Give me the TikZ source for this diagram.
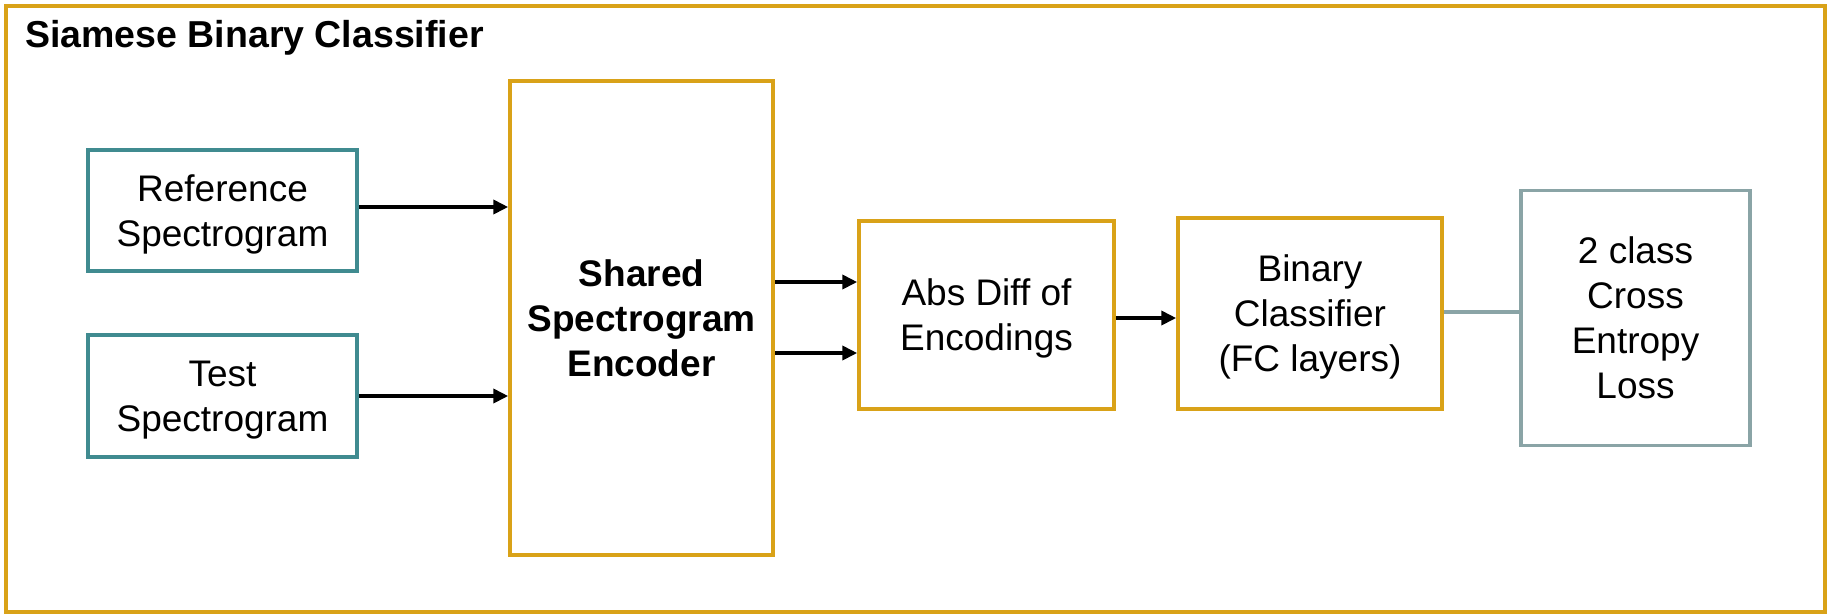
\documentclass[tikz,border=0pt]{standalone}
\usepackage{fontspec}
\setmainfont{Liberation Sans}
\usetikzlibrary{arrows.meta,calc}
\definecolor{framegold}{RGB}{217,162,24}
\definecolor{inteal}{RGB}{64,139,144}
\definecolor{lossgray}{RGB}{138,164,166}
\begin{document}
\begin{tikzpicture}[x=1pt,y=-1pt,
  box/.style={draw,rectangle,line width=3.5pt,inner sep=0pt,align=center,
    text depth=0pt,font=\fontsize{37}{45}\selectfont},
  goldbox/.style={box,draw=framegold},
  tealbox/.style={box,draw=inteal},
  graybox/.style={box,draw=lossgray},
  arr/.style={-{Triangle[length=15pt,width=14pt]},line width=4pt,black},
  link/.style={line width=4pt,lossgray}]
\useasboundingbox (0,0) rectangle (1827,614);
\node[draw=framegold,line width=4pt,rectangle,inner sep=0pt,
  minimum width=1819pt,minimum height=606pt] (frame) at (915.5,309) {};
\node[anchor=base west,inner sep=0pt,font=\fontsize{37.5}{45}\selectfont\bfseries]
  (title) at (25,47) {Siamese Binary Classifier};

\node[tealbox,minimum width=269pt,minimum height=121pt] (ref) at (222.5,210.5)
  {Reference\\Spectrogram};
\node[tealbox,minimum width=269pt,minimum height=122pt] (test) at (222.5,396)
  {Test\\Spectrogram};
\node[goldbox,minimum width=263pt,minimum height=474pt,
  font=\fontsize{37}{45}\selectfont\bfseries] (enc) at (641.5,318)
  {Shared\\Spectrogram\\Encoder};
\node[goldbox,minimum width=255pt,minimum height=188pt] (abs) at (986.5,315)
  {Abs Diff of\\Encodings};
\node[goldbox,minimum width=264pt,minimum height=191pt] (bin) at (1310,313.5)
  {Binary\\Classifier\\(FC layers)};
\node[graybox,minimum width=229pt,minimum height=255pt] (loss) at (1635.5,318)
  {2 class\\Cross\\Entropy\\Loss};

\draw[arr] ([yshift=3.5pt]ref.east) -- ([yshift=3.5pt]ref.east -| enc.west);
\draw[arr] (test.east) -- (test.east -| enc.west);
\draw[arr] ([yshift=33pt]abs.west -| enc.east) -- ([yshift=33pt]abs.west);
\draw[arr] ([yshift=-38pt]abs.west -| enc.east) -- ([yshift=-38pt]abs.west);
\draw[arr] ([yshift=-3pt]abs.east) -- ([yshift=-3pt]abs.east -| bin.west);
\draw[link] ([yshift=1.5pt]bin.east) -- ([yshift=1.5pt]bin.east -| loss.west);
\end{tikzpicture}
\end{document}
